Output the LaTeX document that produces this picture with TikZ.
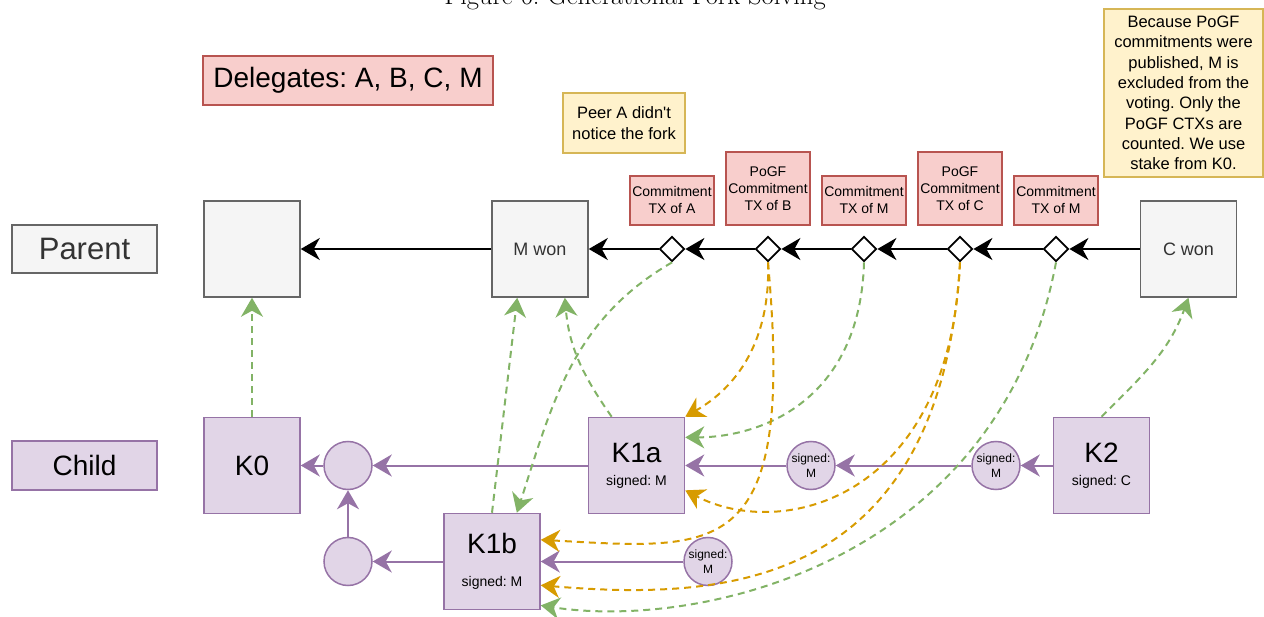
\documentclass[tikz,border=0pt]{standalone}
\usepackage{fontspec}
\setsansfont{Liberation Sans}
\usetikzlibrary{arrows.meta, positioning, shapes.geometric}
\frenchspacing
\definecolor{greyfill}{HTML}{F5F5F5}
\definecolor{greydraw}{HTML}{666666}
\definecolor{greytext}{HTML}{333333}
\definecolor{redfill}{HTML}{F8CECC}
\definecolor{reddraw}{HTML}{B85450}
\definecolor{yellowfill}{HTML}{FFF2CC}
\definecolor{yellowdraw}{HTML}{D6B656}
\definecolor{purplefill}{HTML}{E1D5E7}
\definecolor{purpledraw}{HTML}{9673A6}
\definecolor{greenline}{HTML}{82B366}
\definecolor{orangeline}{HTML}{D79B00}
\tikzset{
  headarr/.style={-{Stealth[length=19pt,width=22pt,inset=6pt]}}, % draw.io classic head
  dashes/.style={dash pattern=on 7pt off 5pt},
  parentbox/.style={draw=greydraw, fill=greyfill, text=greytext, line width=1.5pt,
    minimum width=96pt, minimum height=96pt, inner sep=0pt,
    font=\sffamily\fontsize{18}{22}\selectfont},
  childbox/.style={draw=purpledraw, fill=purplefill, line width=1.5pt,
    minimum width=96pt, minimum height=96pt, inner sep=0pt, align=center},
  redbox/.style={draw=reddraw, fill=redfill, line width=1.5pt, align=center},
  ctxbox/.style={redbox, minimum width=84pt, minimum height=49pt, inner sep=1pt,
    font=\sffamily\fontsize{14}{17}\selectfont},
  notebox/.style={draw=yellowdraw, fill=yellowfill, line width=1.5pt, align=center,
    inner sep=1pt, font=\sffamily\fontsize{16.5}{20.3}\selectfont},
  sigcircle/.style={circle, draw=purpledraw, fill=purplefill, line width=1.5pt,
    minimum size=48pt, inner sep=0pt, align=center,
    font=\sffamily\fontsize{12}{15}\selectfont},
  txjoint/.style={diamond, draw=black, fill=white, line width=1.8pt,
    minimum width=25pt, minimum height=25pt, inner sep=0pt},
  blackline/.style={draw=black, line width=2pt, headarr},
  purpleline/.style={draw=purpledraw, line width=2pt, headarr},
  greenedge/.style={draw=greenline, line width=2pt, dashes, headarr},
  orangeedge/.style={draw=orangeline, line width=2pt, dashes, headarr},
}

\begin{document}
\begin{tikzpicture}[x=1pt, y=1pt, node distance={96pt}]
  \useasboundingbox (0,0) rectangle (1264,-617);
  \begin{scope}
    \clip (0,0) rectangle (1264,-617);
    \node[anchor=base, font=\rmfamily\fontsize{26.5}{30}\selectfont] (title) at (635,-5) {Figure 6: Generational Fork Solving};
  \end{scope}

  % row labels and legend
  \node[parentbox, minimum width=145pt, minimum height=48pt, font=\sffamily\fontsize{31}{36}\selectfont] (parent) at (84.5,-249) {Parent};
  \node[childbox, minimum width=145pt, minimum height=49pt, font=\sffamily\fontsize{28}{32}\selectfont] (child) at (84.5,-465.5) {Child};
  \node[redbox, minimum width=290pt, minimum height=49pt, font=\sffamily\fontsize{28}{32}\selectfont] (delegates) at (348,-80.5) {Delegates: A, B, C, M};

  % parent chain
  \node[parentbox] (root) at (252,-249) {};
  \node[parentbox] (mwon) at (540,-249) {M won};
  \node[txjoint] (dA) at (672,-249) {};
  \node[txjoint, right of=dA] (dB) {};
  \node[txjoint, right of=dB] (dM1) {};
  \node[txjoint, right of=dM1] (dC) {};
  \node[txjoint, right of=dC] (dM2) {};
  \node[parentbox] (cwon) at (1188.5,-249) {C won};

  \node[ctxbox, above=10pt of dA] (ctxA) {Commitment\\TX of A};
  \node[ctxbox, minimum height=73pt, above=10pt of dB] (ctxB) {PoGF\\Commitment\\TX of B};
  \node[ctxbox, above=10pt of dM1] (ctxM1) {Commitment\\TX of M};
  \node[ctxbox, minimum height=73pt, above=10pt of dC] (ctxC) {PoGF\\Commitment\\TX of C};
  \node[ctxbox, above=10pt of dM2] (ctxM2) {Commitment\\TX of M};

  \node[notebox, minimum width=122pt, minimum height=60pt] (peernote) at (624,-123) {Peer A didn\textquotesingle t\\notice the fork};
  \node[notebox, minimum width=159pt, minimum height=168pt] (votenote) at (1183.5,-93) {Because PoGF\\commitments were\\published, M is\\excluded from the\\voting. Only the\\PoGF CTXs are\\counted. We use\\stake from K0.};

  % child chain
  \node[childbox, font=\sffamily\fontsize{28}{32}\selectfont] (K0) at (252,-465.5) {K0};
  \node[sigcircle, right of=K0] (jn1) {};
  \node[sigcircle, below of=jn1] (jn2) {};
  \node[childbox, font=\sffamily\fontsize{14}{23}\selectfont] (K1a) at (636.5,-465.5) {{\fontsize{28}{23}\selectfont K1a}\\signed: M};
  \node[sigcircle] (sig1) at (811,-465.5) {signed:\\M};
  \node[sigcircle] (sig2) at (996,-465.5) {signed:\\M};
  \node[childbox, font=\sffamily\fontsize{14}{23}\selectfont] (K2) at (1101.5,-465.5) {{\fontsize{28}{23}\selectfont K2}\\signed: C};
  \node[childbox, font=\sffamily\fontsize{14}{33}\selectfont] (K1b) at (492,-561.5) {{\fontsize{28}{33}\selectfont K1b}\\signed: M};
  \node[sigcircle] (sig3) at (708,-561.5) {signed:\\M};

  \draw[blackline] (mwon) -- (root);
  \draw[blackline] (dA) -- (mwon);
  \draw[blackline] (dB) -- (dA);
  \draw[blackline] (dM1) -- (dB);
  \draw[blackline] (dC) -- (dM1);
  \draw[blackline] (dM2) -- (dC);
  \draw[blackline] (cwon) -- (dM2);

  \draw[purpleline] (jn1) -- (K0);
  \draw[purpleline] (K1a) -- (jn1);
  \draw[purpleline] (jn2) -- (jn1);
  \draw[purpleline] (K1b) -- (jn2);
  \draw[purpleline] (sig3) -- (K1b);
  \draw[purpleline] (sig1) -- (K1a);
  \draw[purpleline] (sig2) -- (sig1);
  \draw[purpleline] (K2) -- (sig2);

  % votes and commitments
  \draw[greenedge] (K0) -- (root);
  \draw[greenedge] (K1b.north) -- (mwon.-115);
  \draw[greenedge] (K1a.117) to[out=125, in=-85] (mwon.-63);
  \draw[greenedge] (dA.south) to[out=210, in=72] (K1b.63);
  \draw[greenedge] (dM1.south) .. controls +(-4,-139) and +(75,0) .. (K1a.30);
  \draw[greenedge] (dM2.south) .. controls +(-56,-299) and +(160,-25) .. (K1b.-42);
  \draw[greenedge] (K2.north) to[out=45, in=-110] (cwon.south);

  \draw[orangeedge] (dB.south) to[out=-88, in=30] (K1a.north east);
  \draw[orangeedge] (dB.south) .. controls +(27,-299) and +(180,-10) .. (K1b.24);
  \draw[orangeedge] (dC.south) .. controls +(-10,-239) and +(95,-50) .. (K1a.-27);
  \draw[orangeedge] (dC.south) .. controls +(-20,-329) and +(180,-15) .. (K1b.-26);
\end{tikzpicture}
\end{document}
